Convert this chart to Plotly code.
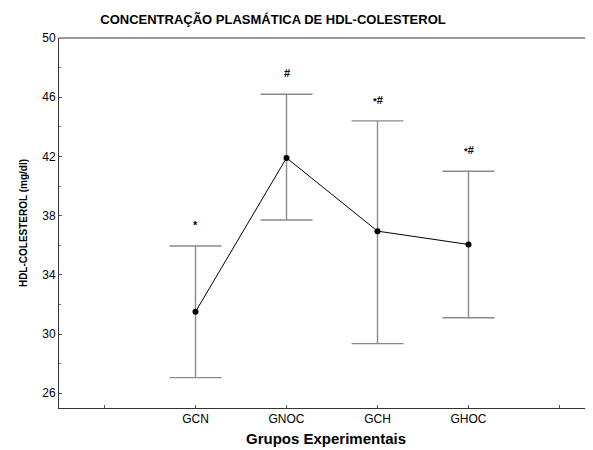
import plotly.graph_objects as go

categories = ["GCN", "GNOC", "GCH", "GHOC"]
means = [31.5, 41.9, 36.95, 36.05]
upper = [35.95, 46.2, 44.4, 41.0]
lower = [27.05, 37.7, 29.35, 31.1]
signif = ["*", "#", "*#", "*#"]
x_pos = [1, 2, 3, 4]
tick_vals = [0, 1, 2, 3, 4, 5]
tick_text = [""] + categories + [""]
y_ticks = [26, 30, 34, 38, 42, 46, 50]

err_plus = [u - m for u, m in zip(upper, means)]
err_minus = [m - l for m, l in zip(means, lower)]


def fmt(s):
    if s == "*#":
        return "<b><span style='font-size:9.5px'>*</span>#</b>"
    return "<b>%s</b>" % s


W, H = 585, 442
fig = go.Figure()
fig.add_trace(go.Scatter(
    x=x_pos, y=means, mode="lines+markers",
    line=dict(color="black", width=1),
    marker=dict(color="black", size=6),
    error_y=dict(type="data", symmetric=False, array=err_plus, arrayminus=err_minus,
                 color="#8a8a8a", thickness=1.4, width=26),
    showlegend=False, hoverinfo="skip",
))

for xp, u, s in zip(x_pos, upper, signif):
    fig.add_annotation(x=xp, y=u, text=fmt(s), showarrow=False,
                       yshift=21, font=dict(size=11, color="black",
                                            family="Liberation Sans, Arial"))

fig.update_layout(
    width=W, height=H,
    margin=dict(l=51, r=0, t=30, b=42),
    plot_bgcolor="white", paper_bgcolor="white",
    font=dict(family="Liberation Sans, Arial", color="black"),
    title=dict(text="<b>CONCENTRAÇÃO PLASMÁTICA DE HDL-COLESTEROL</b>",
               x=265 / W, xanchor="center", y=1 - 11 / H, yanchor="middle",
               font=dict(size=13)),
    xaxis=dict(range=[-0.5, 5.368], tickvals=tick_vals, ticktext=tick_text,
               ticks="inside", ticklen=3, tickcolor="#555", showgrid=False,
               zeroline=False, showline=True, linecolor="#333", linewidth=1,
               mirror=False, tickfont=dict(size=12),
               title=dict(text="<b>Grupos Experimentais</b>", font=dict(size=15),
                          standoff=8)),
    yaxis=dict(range=[25, 50], tickvals=y_ticks, ticks="inside", ticklen=3,
               tickcolor="#555", showgrid=False, zeroline=False, showline=True,
               linecolor="#333", linewidth=1, tickfont=dict(size=12),
               minor=dict(dtick=2, tick0=0, ticks="inside", ticklen=2, tickcolor="#777"),
               title=dict(text="<b>HDL-COLESTEROL (mg/dl)</b>", font=dict(size=10),
                          standoff=12)),
)
fig.add_shape(type="line", xref="paper", yref="paper", x0=0, x1=1, y0=1, y1=1,
              line=dict(color="#333", width=1))

fig.write_html("out.html", post_script="document.documentElement.style.overflow='hidden';document.body.style.overflow='hidden';")
